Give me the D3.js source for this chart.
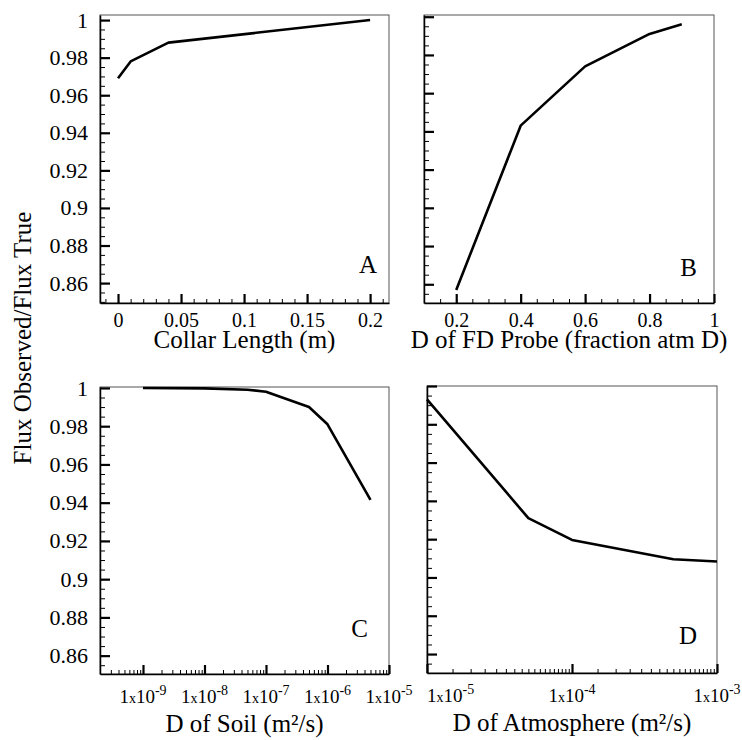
<!DOCTYPE html>
<html lang="en">
<head>
<meta charset="utf-8">
<title>Flux Observed / Flux True</title>
<script src="https://d3js.org/d3.v7.min.js"></script>
<style>
  body { margin: 0; background: #fff; }
  svg, svg text { font-family: "Liberation Serif", "Times New Roman", Tinos, "DejaVu Serif", serif; }
</style>
</head>
<body>
<div id="chart"></div>
<script>
// values
var collarLength = [0, 0.01, 0.04, 0.2];
var collarRatio  = [0.969, 0.978, 0.988, 1.0];

var probeD     = [0.2, 0.4, 0.6, 0.8, 0.9];
var probeRatio = [0.857, 0.943, 0.974, 0.991, 0.996];

var soilD     = [1e-9, 1e-8, 5e-8, 1e-7, 5e-7, 1e-6, 5e-6];
var soilRatio = [1.0, 0.9998, 0.9991, 0.998, 0.990, 0.981, 0.9415];

var atmD     = [1e-5, 5e-5, 1e-4, 5e-4, 1e-3];
var atmRatio = [0.993, 0.931, 0.9196, 0.9095, 0.9083];

var yTicks      = [0.86, 0.88, 0.9, 0.92, 0.94, 0.96, 0.98, 1];
var yTickLabels = ["0.86", "0.88", "0.9", "0.92", "0.94", "0.96", "0.98", "1"];
var collarTicks = [0, 0.05, 0.1, 0.15, 0.2];
var collarTickLabels = ["0", "0.05", "0.1", "0.15", "0.2"];
var probeTicks  = [0.2, 0.4, 0.6, 0.8, 1];
var probeTickLabels = ["0.2", "0.4", "0.6", "0.8", "1"];
var soilTicks   = [1e-9, 1e-8, 1e-7, 1e-6, 1e-5];
var atmTicks    = [1e-5, 1e-4, 1e-3];

var yTitle = "Flux Observed/Flux True";

var serif = "'Liberation Serif', 'Times New Roman', Tinos, 'DejaVu Serif', serif";

var svg = d3.select("#chart")
  .append("svg")
    .attr("width", 742)
    .attr("height", 740)
    .attr("font-family", serif);

// minor tick helpers
function range(a, b, step) {
  var out = [];
  for (var v = a; v <= b + step / 1000; v += step) out.push(+v.toFixed(6));
  return out;
}
function logMinor(lo, hi, mults) {
  var out = [];
  for (var e = Math.floor(Math.log10(lo)); e <= Math.ceil(Math.log10(hi)); e++) {
    mults.forEach(function(m) {
      var v = m * Math.pow(10, e);
      if (v >= lo * 0.9999 && v <= hi * 1.0001) out.push(v);
    });
  }
  return out;
}

var panels = [
  { letter: "A", xs: collarLength, ys: collarRatio, left: 100, top: 15, w: 289, h: 288,
    xDomain: [-0.0143, 0.215], yDomain: [0.8494, 1.0027], log: false,
    xTicks: collarTicks, xLabels: collarTickLabels, xMinor: range(-0.01, 0.21, 0.01),
    yLabels: true, title: "Collar Length (m)", ty: 45, lx: 12, ly: 30 },
  { letter: "B", xs: probeD, ys: probeRatio, left: 424, top: 15, w: 290, h: 288,
    xDomain: [0.1, 1.0], yDomain: [0.8502, 1.0009], log: false,
    xTicks: probeTicks, xLabels: probeTickLabels, xMinor: range(0.1, 1.0, 0.05),
    yLabels: false, title: "D of FD Probe (fraction atm D)", ty: 45, lx: 17, ly: 27 },
  { letter: "C", xs: soilD, ys: soilRatio, left: 100, top: 387, w: 289, h: 287,
    xDomain: [2e-10, 1e-5], yDomain: [0.8504, 1.0005], log: true,
    xTicks: soilTicks, xMinor: logMinor(2e-10, 1e-5, [2, 3, 4, 5, 6, 7, 8, 9]),
    yLabels: true, title: "D of Soil (m\u00b2/s)", ty: 58, lx: 21, ly: 37 },
  { letter: "D", xs: atmD, ys: atmRatio, left: 427, top: 386, w: 290, h: 287,
    xDomain: [1e-5, 1e-3], yDomain: [0.8501, 1.0], log: true,
    xTicks: atmTicks, xMinor: logMinor(1e-5, 1e-3, d3.range(1.5, 10, 0.5)),
    yLabels: false, title: "D of Atmosphere (m\u00b2/s)", ty: 58, lx: 20, ly: 29 }
];

var yMinor = range(0.85, 1.0, 0.005);

panels.forEach(function(p) {
  var g = svg.append("g")
    .attr("transform", "translate(" + p.left + "," + p.top + ")");

  var x = (p.log ? d3.scaleLog() : d3.scaleLinear())
    .domain(p.xDomain)
    .range([0, p.w]);
  var y = d3.scaleLinear()
    .domain(p.yDomain)
    .range([p.h, 0]);

  // frame (top and right show as thin grey lines)
  g.append("rect")
    .attr("width", p.w)
    .attr("height", p.h)
    .attr("fill", "none")
    .attr("stroke", "#555")
    .attr("stroke-width", 1);

  // y minor ticks
  g.append("g")
    .call(d3.axisLeft(y).tickValues(yMinor.filter(function(v) { return v >= p.yDomain[0] && v <= p.yDomain[1]; }))
      .tickSize(-5).tickFormat(""))
    .call(function(a) {
      a.select(".domain").remove();
      a.selectAll("line").attr("stroke", "#000").attr("stroke-width", 1);
    });

  // y major ticks
  g.append("g")
    .call(d3.axisLeft(y).tickValues(yTicks).tickSize(-10).tickSizeOuter(0).tickPadding(12)
      .tickFormat(function(d, i) { return p.yLabels ? yTickLabels[i] : ""; }))
    .attr("font-family", serif)
    .attr("font-size", 22)
    .call(function(a) {
      a.select(".domain").attr("stroke", "#000").attr("stroke-width", 1.5);
      a.selectAll("line").attr("stroke", "#000").attr("stroke-width", 2.2);
      a.selectAll("text").attr("fill", "#000");
    });

  // x minor ticks
  g.append("g")
    .attr("transform", "translate(0," + p.h + ")")
    .call(d3.axisBottom(x).tickValues(p.xMinor).tickSize(-4).tickFormat(""))
    .call(function(a) {
      a.select(".domain").remove();
      a.selectAll("line").attr("stroke", "#000").attr("stroke-width", 1);
    });

  // x major ticks
  g.append("g")
    .attr("transform", "translate(0," + p.h + ")")
    .call(d3.axisBottom(x).tickValues(p.xTicks).tickSize(-9).tickSizeOuter(0).tickPadding(10)
      .tickFormat(function(d, i) { return p.log ? "" : p.xLabels[i]; }))
    .attr("font-family", serif)
    .attr("font-size", 20)
    .call(function(a) {
      a.select(".domain").attr("stroke", "#000").attr("stroke-width", 1.5);
      a.selectAll("line").attr("stroke", "#000").attr("stroke-width", 2.2);
      a.selectAll("text").attr("fill", "#000");
    });

  // log labels: 1x10^n
  if (p.log) {
    var lab = g.selectAll(".loglab")
      .data(p.xTicks)
      .join("text")
        .attr("class", "loglab")
        .attr("x", function(d) { return x(d); })
        .attr("y", p.h + 29)
        .attr("text-anchor", function(d) { return d <= p.xDomain[0] * 1.0001 ? "start" : "middle"; })
        .attr("font-size", 19);
    lab.append("tspan").text("1");
    lab.append("tspan").attr("font-size", 14).text("x");
    lab.append("tspan").text("10");
    lab.append("tspan")
      .attr("dy", -8)
      .attr("font-size", 14)
      .text(function(d) { return "-" + Math.abs(Math.round(Math.log10(d))); });
  }

  // the curve
  var pts = p.xs.map(function(v, i) { return [v, p.ys[i]]; });
  g.append("path")
    .datum(pts)
    .attr("fill", "none")
    .attr("stroke", "#000")
    .attr("stroke-width", 2.6)
    .attr("stroke-linejoin", "round")
    .attr("d", d3.line()
      .x(function(d) { return x(d[0]); })
      .y(function(d) { return y(d[1]); }));

  // panel letter
  g.append("text")
    .attr("x", p.w - p.lx)
    .attr("y", p.h - p.ly)
    .attr("text-anchor", "end")
    .attr("font-size", 25)
    .text(p.letter);

  // x axis title
  g.append("text")
    .attr("x", p.w / 2)
    .attr("y", p.h + p.ty)
    .attr("text-anchor", "middle")
    .attr("font-size", 25)
    .text(p.title);
});

// shared y axis title
svg.append("text")
  .attr("transform", "translate(31,338) rotate(-90)")
  .attr("text-anchor", "middle")
  .attr("font-size", 25)
  .text(yTitle);
</script>
</body>
</html>
